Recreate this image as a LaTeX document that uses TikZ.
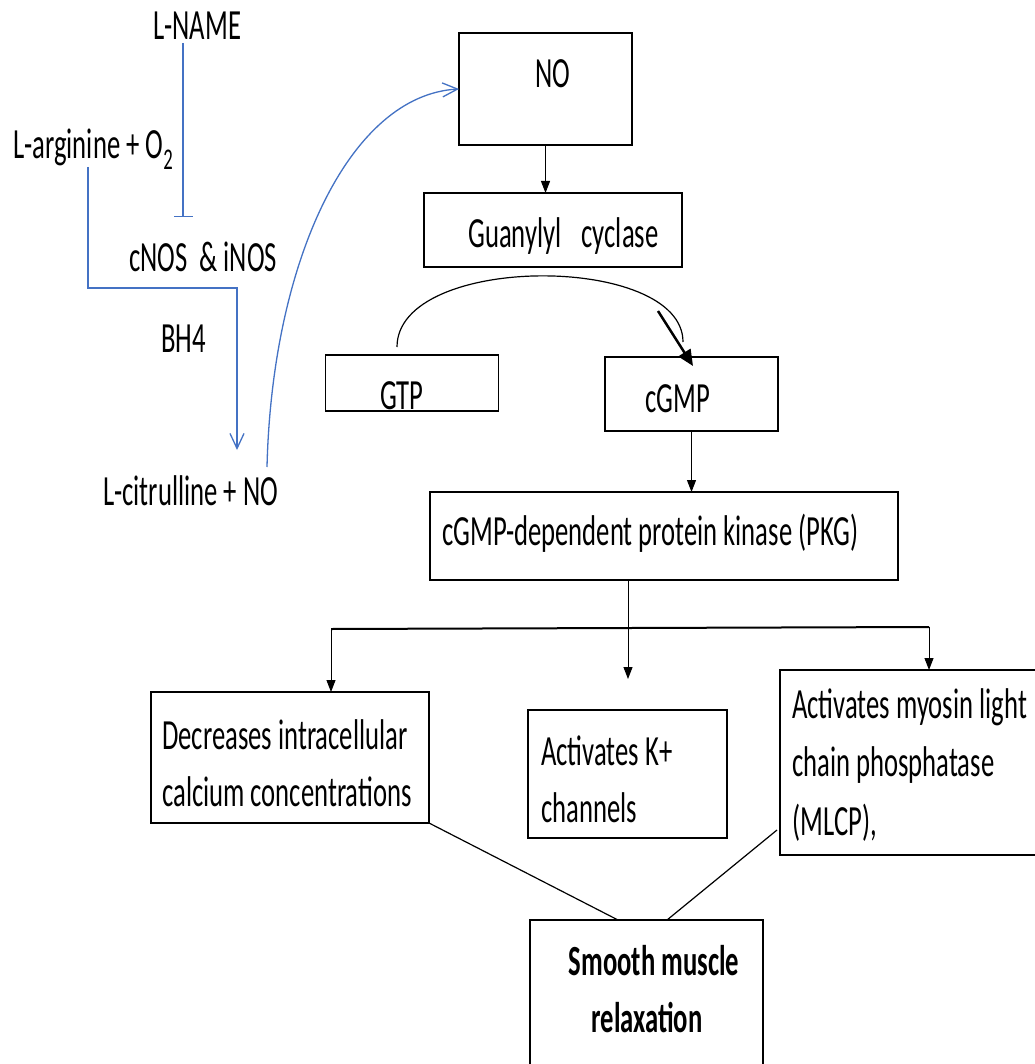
\documentclass[tikz,border=0pt]{standalone}
\usepackage{fontspec}
\setmainfont{Carlito}[FakeStretch=0.62]
\usetikzlibrary{arrows.meta,calc}
\definecolor{myblue}{HTML}{4472C4}
\begin{document}
\begin{tikzpicture}[x=1pt,y=-1pt,
  txt/.style={font=\fontsize{43}{57}\selectfont, inner sep=0pt, anchor=base west},
  box/.style={draw, line width=1.5pt, inner sep=0pt, outer sep=0pt, rectangle},
  arr/.style={line width=1pt, -{Triangle[length=12pt,width=9pt]}},
  bluearr/.style={myblue, line width=1.3pt, -{Straight Barb[length=15pt,width=14pt]}},
  blueline/.style={myblue, line width=1.3pt}]
\useasboundingbox (0,0) rectangle (1034,1064);
\fill[white] (0,0) rectangle (1034,1064);

% left pathway texts
\node[txt] (lname) at (153,40) {L-NAME};
\node[txt] (larg) at (13,159) {L-arginine + O\textsubscript{2}};
\node[txt] (nos) at (129,272) {cNOS\ \ \& iNOS};
\node[txt] (bh) at (161,352) {BH4};
\node[txt] (lcit) at (103,505) {L-citrulline + NO};

\coordinate (inhA) at (183,43);
\coordinate (inhB) at (183,217);
\draw[blueline, -{Bar[width=19pt]}] (inhA) -- (inhB);

\coordinate (argA) at (88,167);
\coordinate (citB) at (237,450);
\draw[bluearr] (argA) -- (88,288) -- (237,288) -- (citB);

% boxes
\node[box, minimum width=173, minimum height=112] (no) at (545.5,89) {};
\node[box, minimum width=258, minimum height=74] (gc) at (553,230) {};
\node[box, minimum width=173, minimum height=56] (gtp) at (412,383) {};
\node[box, minimum width=173, minimum height=74] (cgmp) at (691.5,394) {};
\node[box, minimum width=468, minimum height=88] (pkg) at (664,536) {};
\node[box, minimum width=278, minimum height=131] (dec) at (290,757.5) {};
\node[box, minimum width=199, minimum height=128] (kch) at (627.5,774) {};
\node[box, minimum width=270, minimum height=185] (mlcp) at (915,762.5) {};
\node[box, minimum width=233, minimum height=160] (smooth) at (646.5,1000) {};

% box texts
\node[txt] (tno) at (535,88) {NO};
\node[txt] (tgc) at (468,248) {Guanylyl\hspace{14pt} cyclase};
\node[txt] (tgtp) at (380,409) {GTP};
\node[txt] (tcgmp) at (645,412) {cGMP};
\node[txt] (tpkg) at (442,545) {cGMP-dependent protein kinase (PKG)};
\node[txt] (tdec1) at (162,749) {Decreases intracellular};
\node[txt] (tdec2) at (162,806) {calcium concentrations};
\node[txt] (tk1) at (541,765) {Activates K+};
\node[txt] (tk2) at (541,822) {channels};
\node[txt] (tm1) at (792,718) {Activates myosin light};
\node[txt] (tm2) at (792,776) {chain phosphatase};
\node[txt] (tm3) at (792,835) {(MLCP),};
\node[txt, anchor=base, font=\fontsize{43}{57}\selectfont\bfseries] (ts1) at (654,975) {Smooth muscle};
\node[txt, anchor=base, font=\fontsize{43}{57}\selectfont\bfseries] (ts2) at (647,1032) {relaxation};

% NO curve
\coordinate (citA) at (267,467);
\draw[bluearr] (citA) .. controls (272,260) and (350,95) .. (no.west);

% main chain
\draw[arr] (no.south) -- (no.south |- gc.north);
\coordinate (gtpA) at (397,347);
\coordinate (cgA) at (683,342);
\draw[line width=1.2pt] (gtpA) .. controls (397,253) and (683,253) .. (cgA);
\coordinate (thA) at (658,311);
\coordinate (thB) at (693,366);
\draw[line width=2.5pt, -{Triangle[length=16pt,width=14pt]}] (thA) -- (thB);
\draw[arr] (cgmp.south) -- (cgmp.south |- pkg.north);

% branching
\coordinate (bl) at (331,629);
\coordinate (br) at (929,627);
\coordinate (mid) at (628,580);
\coordinate (midtip) at (628,679);
\draw[line width=2pt] (bl) -- (br);
\draw[arr] (mid) -- (midtip);
\draw[arr] (bl) -- (bl |- dec.north);
\draw[arr] (br) -- (br |- mlcp.north);

% to smooth muscle relaxation
\coordinate (sL) at (618,920);
\coordinate (sR) at (667,920);
\coordinate (mL) at (777,830);
\draw[line width=1.2pt] (dec.south east) -- (sL);
\draw[line width=1.2pt] (mL) -- (sR);
\end{tikzpicture}
\end{document}
